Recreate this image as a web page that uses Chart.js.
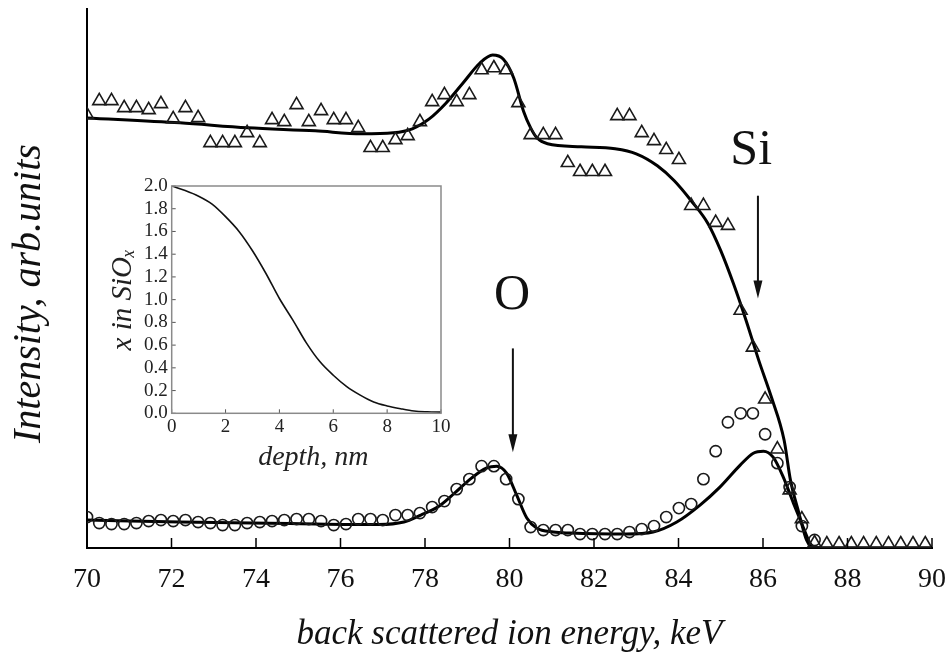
<!DOCTYPE html>
<html>
<head>
<meta charset="utf-8">
<script src="https://cdn.jsdelivr.net/npm/chart.js@4.4.0/dist/chart.umd.min.js"></script>
<style>
  html, body { margin: 0; padding: 0; background: #fff; }
  #wrap { position: relative; width: 951px; height: 659px; }
  #main { position: absolute; left: 0; top: 0; }
  #inset { position: absolute; left: 105px; top: 176px; }
</style>
</head>
<body>
<div id="wrap">
  <canvas id="main" width="951" height="659"></canvas>
  <canvas id="inset" width="345" height="300"></canvas>
</div>
<script>
// detector channels, keV
const energy = [
  70.00, 70.29, 70.58, 70.88, 71.17, 71.46, 71.75, 72.04, 72.33, 72.63,
  72.92, 73.21, 73.50, 73.79, 74.09, 74.38, 74.67, 74.96, 75.25, 75.54,
  75.84, 76.13, 76.42, 76.71, 77.00, 77.30, 77.59, 77.88, 78.17, 78.46,
  78.75, 79.05, 79.34, 79.63, 79.92, 80.21, 80.50, 80.80, 81.09, 81.38,
  81.67, 81.96, 82.26, 82.55, 82.84, 83.13, 83.42, 83.71, 84.01, 84.30,
  84.59, 84.88, 85.17, 85.47, 85.76, 86.05, 86.34, 86.63, 86.92, 87.22,
  87.51, 87.80, 88.09, 88.38, 88.68, 88.97, 89.26, 89.55, 89.84
];

// measured Si signal (triangles)
const siMeasured = [
  434, 448, 448, 441, 441, 439, 445, 430, 441, 431,
  406, 406, 406, 416, 406, 429, 427, 444, 427, 438,
  429, 429, 421, 401, 401, 409, 413, 427, 447, 454,
  447, 454, 479, 481, 479, 446, 414, 414, 414, 386,
  377, 377, 377, 433, 433, 416, 408, 399, 389, 343,
  343, 326, 323, 238, 201, 149, 99, 58, 29, 5,
  4, 4, 4, 4, 4, 4, 4, 4, 4
];

// measured O signal (circles)
const oMeasured = [
  31, 25, 24, 24, 25, 27, 28, 27, 28, 26,
  25, 23, 23, 25, 26, 27, 28, 29, 29, 27,
  23, 24, 29, 29, 28, 33, 33, 35, 41, 47,
  59, 69, 82, 82, 69, 49, 21, 18, 18, 18,
  14, 14, 14, 14, 16, 19, 22, 31, 40, 44,
  69, 97, 126, 135, 135, 114, 85, 61, 22, 8,
  null, null, null, null, null, null, null, null, null
];

// simulated curves
const siFitE = [70.0, 72.2, 73.8, 75.4, 76.5, 77.25, 77.7, 78.1, 78.5, 78.9, 79.3, 79.6, 79.85, 80.1, 80.33, 80.5, 80.65, 80.9, 81.7, 82.5, 83.0, 83.5, 83.9, 84.3, 84.7, 85.0, 85.3, 85.6, 85.9, 86.2, 86.5, 86.65, 86.85, 87.03, 87.2, 88.0, 90.0];
const siFitI = [431, 426, 421, 418, 415, 416, 420, 430, 446, 466, 486, 494, 490, 471, 438, 421, 411, 405, 402, 400, 395, 383, 368, 348, 325, 298, 265, 228, 188, 151, 108, 68, 35, 8, 0, 0, 0];
const oFitE = [70.0, 72.2, 74.8, 76.9, 77.5, 77.9, 78.3, 78.7, 79.1, 79.45, 79.7, 79.93, 80.17, 80.41, 80.64, 81.04, 81.43, 82.77, 83.4, 83.96, 84.51, 84.98, 85.46, 85.77, 86.01, 86.24, 86.48, 86.72, 86.95, 87.11, 87.25, 90.0];
const oFitI = [28, 26, 24.5, 23.5, 26, 33, 41, 55, 70, 80, 82, 75, 53, 30, 20, 16, 15, 14, 16, 26, 43, 61, 83, 95, 97, 91, 71, 45, 21, 5, 0, 0];

const energyTicks = [70, 72, 74, 76, 78, 80, 82, 84, 86, 88, 90];

// inset: stoichiometry profile
const depth = [0, 0.5, 1, 1.5, 2, 2.5, 3, 3.5, 4, 4.5, 5, 5.5, 6, 6.5, 7, 7.5, 8, 8.5, 9, 9.5, 10];
const xInSiOx = [2.0, 1.96, 1.91, 1.84, 1.73, 1.60, 1.43, 1.23, 1.01, 0.82, 0.62, 0.455, 0.335, 0.235, 0.16, 0.10, 0.065, 0.04, 0.02, 0.013, 0.01];

// element markers: [label, text energy, text level, arrow energy, arrow top, arrow tip]
const siMark = ["Si", 85.72, 398, 85.88, 353, 250];
const oMark = ["O", 80.06, 253, 80.08, 200, 96];

const SERIF = '"Liberation Serif", "Times New Roman", serif';

function pts(xs, ys) {
  return xs.map((x, i) => ({ x: x, y: ys[i] }));
}

// tick marks pointing into the plot
const innerTicks = {
  id: "innerTicks",
  afterDraw(chart, args, opts) {
    const { ctx, chartArea, scales } = chart;
    ctx.save();
    ctx.strokeStyle = opts.color;
    ctx.lineWidth = opts.width;
    ctx.beginPath();
    scales.x.ticks.forEach((t) => {
      const px = scales.x.getPixelForValue(t.value);
      ctx.moveTo(px, chartArea.bottom);
      ctx.lineTo(px, chartArea.bottom - opts.length);
    });
    if (opts.yAxis) {
      scales.y.ticks.forEach((t) => {
        const py = scales.y.getPixelForValue(t.value);
        ctx.moveTo(chartArea.left, py);
        ctx.lineTo(chartArea.left + opts.length, py);
      });
    }
    ctx.stroke();
    if (opts.box) {
      ctx.strokeStyle = opts.boxColor;
      ctx.lineWidth = 1.5;
      ctx.strokeRect(chartArea.left, chartArea.top, chartArea.right - chartArea.left, chartArea.bottom - chartArea.top);
    }
    ctx.restore();
  },
};

// element labels with arrows
const elementMarks = {
  id: "elementMarks",
  afterDatasetsDraw(chart) {
    const { ctx, scales } = chart;
    ctx.save();
    ctx.fillStyle = "#111";
    ctx.strokeStyle = "#111";
    ctx.font = "50px " + SERIF;
    ctx.textAlign = "center";
    ctx.textBaseline = "middle";
    [siMark, oMark].forEach((m) => {
      ctx.fillText(m[0], scales.x.getPixelForValue(m[1]), scales.y.getPixelForValue(m[2]));
      const x = scales.x.getPixelForValue(m[3]);
      const y0 = scales.y.getPixelForValue(m[4]);
      const y1 = scales.y.getPixelForValue(m[5]);
      ctx.lineWidth = 2;
      ctx.beginPath();
      ctx.moveTo(x, y0);
      ctx.lineTo(x, y1 - 12);
      ctx.stroke();
      ctx.beginPath();
      ctx.moveTo(x - 4.5, y1 - 18);
      ctx.lineTo(x + 4.5, y1 - 18);
      ctx.lineTo(x, y1);
      ctx.closePath();
      ctx.fill();
    });
    ctx.restore();
  },
};

new Chart(document.getElementById("main"), {
  type: "scatter",
  data: {
    datasets: [
      {
        label: "Si measured",
        data: pts(energy, siMeasured),
        pointStyle: "triangle",
        pointRadius: 7.5,
        borderColor: "#1a1a1a",
        backgroundColor: "rgba(0,0,0,0)",
        borderWidth: 1.6,
        showLine: false,
      },
      {
        label: "O measured",
        data: pts(energy, oMeasured),
        pointStyle: "circle",
        pointRadius: 5.6,
        borderColor: "#1a1a1a",
        backgroundColor: "rgba(0,0,0,0)",
        borderWidth: 1.6,
        showLine: false,
      },
      {
        label: "Si fit",
        data: pts(siFitE, siFitI),
        showLine: true,
        borderColor: "#000",
        borderWidth: 3,
        pointRadius: 0,
        cubicInterpolationMode: "monotone",
      },
      {
        label: "O fit",
        data: pts(oFitE, oFitI),
        showLine: true,
        borderColor: "#000",
        borderWidth: 3,
        pointRadius: 0,
        cubicInterpolationMode: "monotone",
      },
    ],
  },
  options: {
    responsive: false,
    animation: false,
    layout: { padding: { left: 0, top: 8, right: 19, bottom: 0 } },
    plugins: {
      legend: { display: false },
      tooltip: { enabled: false },
      innerTicks: { color: "#000", width: 1.5, length: 10, yAxis: false, box: false },
    },
    scales: {
      x: {
        type: "linear",
        min: 70,
        max: 90,
        afterBuildTicks: (s) => {
          s.ticks = energyTicks.map((v) => ({ value: v }));
        },
        afterFit: (s) => {
          s.height = 111;
          s.paddingLeft = 0;
          s.paddingRight = 0;
        },
        grid: { display: false, drawTicks: false },
        border: { display: true, color: "#000", width: 2 },
        ticks: { color: "#111", padding: 15, maxRotation: 0, autoSkip: false, font: { family: SERIF, size: 28 } },
        title: {
          display: true,
          text: "back scattered ion energy, keV",
          color: "#111",
          padding: { top: 0, bottom: 3 },
          font: { family: SERIF, size: 35, style: "italic" },
        },
      },
      y: {
        type: "linear",
        min: 0,
        max: 540,
        afterFit: (s) => {
          s.width = 87;
          s.paddingTop = 0;
          s.paddingBottom = 0;
        },
        grid: { display: false, drawTicks: false },
        border: { display: true, color: "#000", width: 2 },
        ticks: { display: false },
        title: {
          display: true,
          text: "Intensity, arb.units\u00a0\u00a0\u00a0",
          color: "#111",
          padding: { top: 5, bottom: 0 },
          font: { family: SERIF, size: 40, style: "italic" },
        },
      },
    },
  },
  plugins: [innerTicks, elementMarks],
});

new Chart(document.getElementById("inset"), {
  type: "scatter",
  data: {
    datasets: [
      {
        label: "x in SiOx",
        data: pts(depth, xInSiOx),
        showLine: true,
        borderColor: "#111",
        borderWidth: 1.6,
        pointRadius: 0,
        cubicInterpolationMode: "monotone",
      },
    ],
  },
  options: {
    responsive: false,
    animation: false,
    layout: { padding: { left: 0, top: 10, right: 9, bottom: 0 } },
    plugins: {
      legend: { display: false },
      tooltip: { enabled: false },
      innerTicks: { color: "#555", width: 1, length: 4, yAxis: true, box: true, boxColor: "#8a8a8a" },
    },
    scales: {
      x: {
        type: "linear",
        min: 0,
        max: 10,
        ticks: { stepSize: 2, color: "#222", padding: 2, maxRotation: 0, autoSkip: false, font: { family: SERIF, size: 19 } },
        afterFit: (s) => {
          s.height = 62.7;
          s.paddingLeft = 0;
          s.paddingRight = 0;
        },
        grid: { display: false, drawTicks: false },
        border: { display: false },
        title: {
          display: true,
          text: "\u00a0\u00a0depth, nm",
          color: "#222",
          padding: { top: 0, bottom: 2 },
          font: { family: SERIF, size: 28, style: "italic" },
        },
      },
      y: {
        type: "linear",
        min: 0,
        max: 2,
        ticks: {
          stepSize: 0.2,
          autoSkip: false,
          color: "#222",
          padding: 4,
          font: { family: SERIF, size: 19 },
          callback: (v) => v.toFixed(1),
        },
        afterFit: (s) => {
          s.width = 66.7;
          s.paddingTop = 0;
          s.paddingBottom = 0;
        },
        grid: { display: false, drawTicks: false },
        border: { display: false },
        title: {
          display: true,
          text: "x in SiOₓ",
          color: "#222",
          padding: { top: 1, bottom: 0 },
          font: { family: SERIF, size: 29, style: "italic" },
        },
      },
    },
  },
  plugins: [innerTicks],
});
</script>
</body>
</html>
